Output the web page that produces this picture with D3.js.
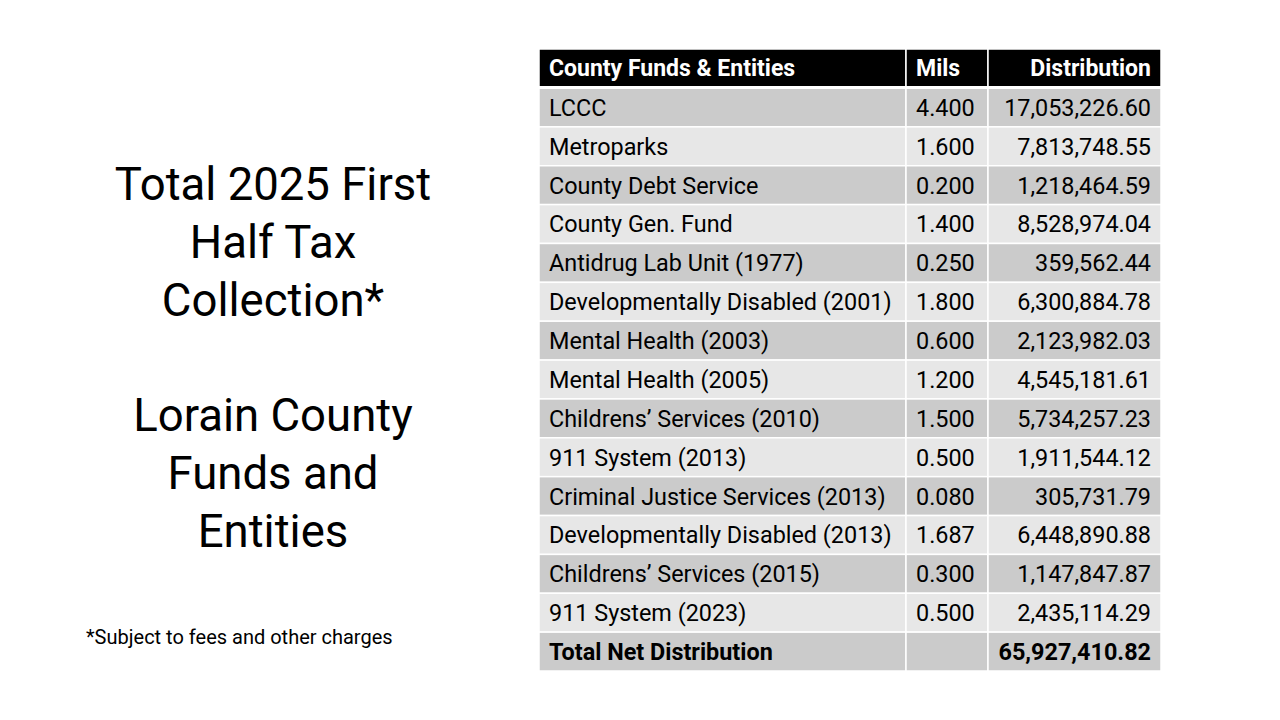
<!DOCTYPE html>
<html>
<head>
<meta charset="utf-8">
<script src="https://cdn.jsdelivr.net/npm/d3@7"></script>
<style>
  body { margin: 0; background: #fff; }
  svg { display: block; font-family: Roboto, "Liberation Sans", sans-serif; }
</style>
</head>
<body>
<div id="chart"></div>
<script>
// Table values
var headers = ["County Funds & Entities", "Mils", "Distribution"];
var entities = ["LCCC", "Metroparks", "County Debt Service", "County Gen. Fund",
  "Antidrug Lab Unit (1977)", "Developmentally Disabled (2001)", "Mental Health (2003)",
  "Mental Health (2005)", "Childrens\u2019 Services (2010)", "911 System (2013)",
  "Criminal Justice Services (2013)", "Developmentally Disabled (2013)",
  "Childrens\u2019 Services (2015)", "911 System (2023)"];
var mils = [4.400, 1.600, 0.200, 1.400, 0.250, 1.800, 0.600, 1.200, 1.500, 0.500, 0.080, 1.687, 0.300, 0.500];
var distribution = [17053226.60, 7813748.55, 1218464.59, 8528974.04, 359562.44, 6300884.78,
  2123982.03, 4545181.61, 5734257.23, 1911544.12, 305731.79, 6448890.88, 1147847.87, 2435114.29];
var totalLabel = "Total Net Distribution";
var titleLines = ["Total 2025 First", "Half Tax", "Collection*", "", "Lorain County", "Funds and", "Entities"];
var footnote = "*Subject to fees and other charges";

var width = 1280, height = 720;
var tableLeft = 539, tableRight = 1161;
var colEdges = [tableLeft, 906, 988, tableRight];
var headerTop = 49, headerBottom = 87;
var bodyTop = 88, bodyBottom = 671;

var fmtMils = d3.format(".3f");
var fmtMoney = d3.format(",.2f");

var rows = entities.map(function(e, i) {
  return { name: e, mils: fmtMils(mils[i]), dist: fmtMoney(distribution[i]), bold: false };
});
rows.push({ name: totalLabel, mils: "", dist: fmtMoney(Math.round(d3.sum(distribution) * 100) / 100), bold: true });

var svg = d3.select("#chart").append("svg")
  .attr("width", width)
  .attr("height", height);

// left-hand title
var titleY = d3.scalePoint()
  .domain(d3.range(titleLines.length))
  .range([200, 547]);

svg.append("g").selectAll("text")
  .data(titleLines)
  .join("text")
    .attr("x", 273)
    .attr("y", function(d, i) { return titleY(i); })
    .attr("text-anchor", "middle")
    .style("font-size", "45.5px")
    .attr("fill", "#000")
    .text(function(d) { return d; });

svg.append("text")
  .attr("x", 86)
  .attr("y", 644)
  .style("font-size", "20px")
  .attr("fill", "#000")
  .text(footnote);

// table
var y = d3.scaleBand()
  .domain(d3.range(rows.length))
  .range([bodyTop, bodyBottom]);

var cols = [
  { key: "name", x0: colEdges[0], x1: colEdges[1], anchor: "start" },
  { key: "mils", x0: colEdges[1], x1: colEdges[2], anchor: "start" },
  { key: "dist", x0: colEdges[2], x1: colEdges[3], anchor: "end" }
];
function textX(c) { return c.anchor == "start" ? c.x0 + 10 : c.x1 - 10; }

var head = svg.append("g");
head.selectAll("rect")
  .data(cols)
  .join("rect")
    .attr("x", function(c) { return c.x0; })
    .attr("y", headerTop)
    .attr("width", function(c) { return c.x1 - c.x0; })
    .attr("height", headerBottom - headerTop)
    .attr("fill", "#000")
    .attr("stroke", "#fff")
    .attr("stroke-width", 1.5);
head.selectAll("text")
  .data(cols)
  .join("text")
    .attr("x", textX)
    .attr("y", (headerTop + headerBottom) / 2)
    .attr("dy", "0.36em")
    .attr("text-anchor", function(c) { return c.anchor; })
    .style("font-size", "23px")
    .style("font-weight", "bold")
    .attr("fill", "#fff")
    .text(function(c, i) { return headers[i]; });

var rowG = svg.append("g").selectAll("g")
  .data(rows)
  .join("g")
    .attr("transform", function(d, i) { return "translate(0," + y(i) + ")"; });

rowG.each(function(d, i) {
  var g = d3.select(this);
  g.selectAll("rect")
    .data(cols)
    .join("rect")
      .attr("x", function(c) { return c.x0; })
      .attr("width", function(c) { return c.x1 - c.x0; })
      .attr("height", y.bandwidth())
      .attr("fill", i % 2 == 0 ? "#cbcbcb" : "#e7e7e7")
      .attr("stroke", "#fff")
      .attr("stroke-width", 1.5);
  g.selectAll("text")
    .data(cols)
    .join("text")
      .attr("x", textX)
      .attr("y", y.bandwidth() / 2)
      .attr("dy", "0.36em")
      .attr("text-anchor", function(c) { return c.anchor; })
      .style("font-size", "23.4px")
      .style("font-weight", d.bold ? "bold" : "normal")
      .attr("fill", "#000")
      .text(function(c) { return d[c.key]; });
});

// thicker white line under the header
svg.append("line")
  .attr("x1", tableLeft).attr("x2", tableRight)
  .attr("y1", headerBottom + 0.5).attr("y2", headerBottom + 0.5)
  .attr("stroke", "#fff")
  .attr("stroke-width", 3);
</script>
</body>
</html>
